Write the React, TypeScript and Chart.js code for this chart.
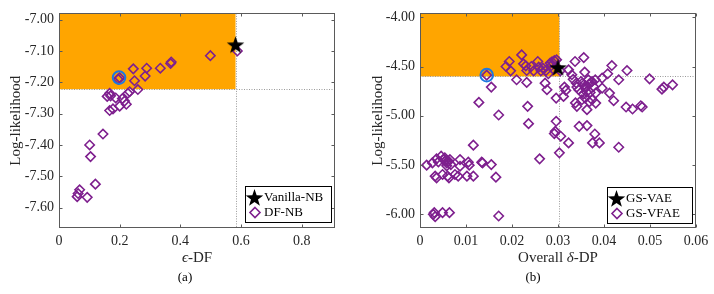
import React, { useEffect, useRef } from 'react';
import { Chart, registerables } from 'chart.js';
Chart.register(...registerables);

// ---------- Panel (a) data ----------
const aXTicks = [0, 0.2, 0.4, 0.6, 0.8];
const aYTicks = [-7.0, -7.1, -7.2, -7.3, -7.4, -7.5, -7.6];
const aXRange = [0, 0.91];
const aYRange = [-7.665, -6.98];
const aStar: [number, number] = [0.582, -7.08];
const aCircle: [number, number] = [0.198, -7.185];
const aThreshold: [number, number] = [0.582, -7.222];
const aDiamonds: [number, number][] = [
  [0.588, -7.1], [0.499, -7.115], [0.37, -7.135], [0.368, -7.14], [0.334, -7.155],
  [0.289, -7.155], [0.284, -7.18], [0.245, -7.157], [0.249, -7.195], [0.2, -7.186],
  [0.195, -7.19], [0.26, -7.223], [0.233, -7.23], [0.227, -7.235], [0.209, -7.252],
  [0.216, -7.26], [0.222, -7.27], [0.2, -7.276], [0.187, -7.25], [0.167, -7.235],
  [0.17, -7.243], [0.159, -7.245], [0.167, -7.29], [0.178, -7.285], [0.145, -7.365],
  [0.101, -7.4], [0.104, -7.437], [0.12, -7.525], [0.068, -7.543], [0.063, -7.555],
  [0.06, -7.565], [0.093, -7.567],
];
const aLegend = ['Vanilla-NB', 'DF-NB'];
const aXTitle = [{ t: 'ϵ', i: true }, { t: '-DF', i: false }];

// ---------- Panel (b) data ----------
const bXTicks = [0, 0.01, 0.02, 0.03, 0.04, 0.05, 0.06];
const bYTicks = [-4.0, -4.5, -5.0, -5.5, -6.0];
const bXRange = [0, 0.06];
const bYRange = [-6.142, -3.96];
const bStar: [number, number] = [0.03, -4.51];
const bCircle: [number, number] = [0.0145, -4.588];
const bThreshold: [number, number] = [0.0303, -4.601];
const bDiamonds: [number, number][] = [
  [0.0194, -4.449], [0.0187, -4.5], [0.0197, -4.544], [0.0221, -4.382], [0.0225, -4.473],
  [0.023, -4.493], [0.0232, -4.541], [0.021, -4.635], [0.0232, -4.662], [0.0242, -4.5],
  [0.0247, -4.544], [0.0256, -4.449], [0.0258, -4.507], [0.0263, -4.544], [0.0267, -4.517],
  [0.0274, -4.541], [0.0283, -4.466], [0.0287, -4.453], [0.0292, -4.44], [0.0297, -4.432],
  [0.0285, -4.493], [0.029, -4.527], [0.0279, -4.574], [0.0272, -4.669], [0.0276, -4.736],
  [0.0155, -4.709], [0.0145, -4.588], [0.0128, -4.865], [0.0171, -4.993], [0.0234, -4.905],
  [0.0236, -5.081], [0.0296, -4.821], [0.0296, -5.057], [0.0294, -5.159], [0.0292, -5.182],
  [0.0306, -5.209], [0.0323, -5.277], [0.0303, -5.378], [0.026, -5.439], [0.0116, -5.3],
  [0.0305, -4.544], [0.0323, -4.534], [0.033, -4.584], [0.0337, -4.449], [0.0356, -4.409],
  [0.0358, -4.557], [0.0314, -4.709], [0.0317, -4.743], [0.0312, -4.804], [0.034, -4.669],
  [0.035, -4.652], [0.0356, -4.686], [0.0359, -4.72], [0.0366, -4.635], [0.0374, -4.652],
  [0.0381, -4.635], [0.0377, -4.703], [0.037, -4.764], [0.0359, -4.821], [0.0341, -4.905],
  [0.0352, -4.838], [0.0363, -4.939], [0.0374, -4.838], [0.0382, -4.872], [0.0396, -4.618],
  [0.0408, -4.574], [0.0417, -4.49], [0.0412, -4.77], [0.0421, -4.848], [0.0432, -4.635],
  [0.0448, -4.912], [0.045, -4.541], [0.0462, -4.932], [0.048, -4.899], [0.0483, -4.912],
  [0.0499, -4.625], [0.0526, -4.73], [0.053, -4.709], [0.0549, -4.686], [0.0346, -5.108],
  [0.0363, -5.101], [0.038, -5.186], [0.0375, -5.277], [0.039, -5.277], [0.0432, -5.321],
  [0.0341, -4.709], [0.0345, -4.736], [0.0382, -4.77], [0.0396, -4.72], [0.0353, -4.67],
  [0.036, -4.7], [0.0367, -4.68], [0.0372, -4.66], [0.0362, -4.76], [0.0355, -4.78],
  [0.0368, -4.86], [0.0333, -4.63], [0.0338, -4.87],
  [0.00145, -5.503], [0.0027, -5.48], [0.0036, -5.439], [0.004, -5.47], [0.0046, -5.412],
  [0.0051, -5.446], [0.0054, -5.429], [0.0058, -5.48], [0.0062, -5.463], [0.0065, -5.446],
  [0.0067, -5.497], [0.0058, -5.51], [0.006, -5.47], [0.0056, -5.455], [0.0087, -5.446],
  [0.0087, -5.514], [0.0105, -5.473], [0.0107, -5.503], [0.0134, -5.473], [0.0136, -5.48],
  [0.0155, -5.497], [0.0033, -5.615], [0.0036, -5.632], [0.0049, -5.598], [0.006, -5.615],
  [0.0063, -5.632], [0.0076, -5.598], [0.0083, -5.615], [0.0102, -5.615], [0.0116, -5.615],
  [0.0165, -5.625], [0.0031, -5.986], [0.0033, -6.027], [0.0029, -6.003], [0.0049, -5.986],
  [0.0064, -5.986], [0.0171, -6.02],
];
const bLegend = ['GS-VAE', 'GS-VFAE'];
const bXTitle = [{ t: 'Overall ', i: false }, { t: 'δ', i: true }, { t: '-DP', i: false }];

const SERIF = '"Liberation Serif", "Times New Roman", serif';
const TEXT = '#262626';
const PURPLE = '#7E1F8E';
const BLUE = '#1E78E0';
const ORANGE = '#FFA500';

function makeStar(size: number): HTMLCanvasElement {
  const c = document.createElement('canvas');
  c.width = size;
  c.height = size;
  const g = c.getContext('2d')!;
  const cx = size / 2, cy = size / 2 + 0.8;
  const R = size / 2 - 0.3, r = R * 0.4;
  g.beginPath();
  for (let i = 0; i < 10; i++) {
    const ang = -Math.PI / 2 + (i * Math.PI) / 5;
    const rad = i % 2 === 0 ? R : r;
    const px = cx + rad * Math.cos(ang), py = cy + rad * Math.sin(ang);
    if (i === 0) g.moveTo(px, py); else g.lineTo(px, py);
  }
  g.closePath();
  g.fillStyle = '#000';
  g.fill();
  return c;
}

function drawDiamond(ctx: CanvasRenderingContext2D, x: number, y: number, r: number) {
  ctx.beginPath();
  ctx.moveTo(x, y - r);
  ctx.lineTo(x + r, y);
  ctx.lineTo(x, y + r);
  ctx.lineTo(x - r, y);
  ctx.closePath();
  ctx.stroke();
}

const panelPlugin = {
  id: 'panel',
  beforeDatasetsDraw(chart: any, _a: any, o: any) {
    const { ctx, chartArea: ca, scales } = chart;
    const px = scales.x.getPixelForValue(o.threshold[0]);
    const py = scales.y.getPixelForValue(o.threshold[1]);
    ctx.save();
    ctx.fillStyle = ORANGE;
    ctx.fillRect(ca.left, ca.top, px - ca.left, py - ca.top);
    ctx.strokeStyle = '#9a9a9a';
    ctx.lineWidth = 1;
    ctx.setLineDash([1, 1.5]);
    ctx.beginPath();
    ctx.moveTo(Math.round(px) + 0.5, ca.top);
    ctx.lineTo(Math.round(px) + 0.5, ca.bottom);
    ctx.moveTo(ca.left, Math.round(py) + 0.5);
    ctx.lineTo(ca.right, Math.round(py) + 0.5);
    ctx.stroke();
    ctx.restore();
  },
  afterDraw(chart: any, _a: any, o: any) {
    const { ctx, chartArea: ca, scales } = chart;
    ctx.save();
    // frame
    ctx.strokeStyle = '#5a5a5a';
    ctx.lineWidth = 1;
    const L = Math.round(ca.left) + 0.5, R = Math.round(ca.right) - 0.5;
    const T = Math.round(ca.top) + 0.5, B = Math.round(ca.bottom) - 0.5;
    ctx.strokeRect(L, T, R - L, B - T);
    // inward ticks
    ctx.beginPath();
    for (const v of o.xTicks) {
      const px = Math.round(scales.x.getPixelForValue(v)) + 0.5;
      ctx.moveTo(px, B); ctx.lineTo(px, B - 3);
      ctx.moveTo(px, T); ctx.lineTo(px, T + 3);
    }
    for (const v of o.yTicks) {
      const py = Math.round(scales.y.getPixelForValue(v)) + 0.5;
      ctx.moveTo(L, py); ctx.lineTo(L + 3, py);
      ctx.moveTo(R, py); ctx.lineTo(R - 3, py);
    }
    ctx.stroke();
    // x-axis title with italic Greek letter
    ctx.fillStyle = TEXT;
    ctx.textBaseline = 'middle';
    ctx.textAlign = 'left';
    const parts = o.xTitle as { t: string; i: boolean }[];
    const fontOf = (i: boolean) => `${i ? 'italic ' : ''}15px ${SERIF}`;
    let total = 0;
    for (const p of parts) { ctx.font = fontOf(p.i); total += ctx.measureText(p.t).width; }
    let tx = (ca.left + ca.right) / 2 - total / 2;
    for (const p of parts) {
      ctx.font = fontOf(p.i);
      ctx.fillText(p.t, tx, 258);
      tx += ctx.measureText(p.t).width;
    }
    // legend
    const lw = o.legendW, lh = 36;
    const lx = Math.round(ca.right - 4 - lw) + 0.5;
    const ly = Math.round(ca.bottom - o.legendBottom - lh) + 0.5;
    ctx.fillStyle = '#fff';
    ctx.fillRect(lx, ly, lw, lh);
    ctx.strokeStyle = '#000';
    ctx.lineWidth = 1;
    ctx.strokeRect(lx, ly, lw, lh);
    const star = o.star as HTMLCanvasElement;
    ctx.drawImage(star, lx + 9 - star.width / 2, ly + 11 - star.height / 2);
    ctx.strokeStyle = PURPLE;
    ctx.lineWidth = 1.6;
    drawDiamond(ctx, lx + 9.5, ly + 26, 5);
    ctx.fillStyle = '#000';
    ctx.font = `13px ${SERIF}`;
    ctx.textBaseline = 'middle';
    ctx.textAlign = 'left';
    ctx.fillText(o.legend[0], lx + 18.5, ly + 11.5);
    ctx.fillText(o.legend[1], lx + 18.5, ly + 26.5);
    // caption
    ctx.fillStyle = '#000';
    ctx.font = `13px ${SERIF}`;
    ctx.textAlign = 'center';
    ctx.fillText(o.caption, o.captionX, 278);
    ctx.restore();
  },
};

interface PanelSpec {
  xTicks: number[]; yTicks: number[]; xRange: number[]; yRange: number[];
  star: [number, number]; circle: [number, number]; threshold: [number, number];
  diamonds: [number, number][]; legend: string[];
  xTitle: { t: string; i: boolean }[]; caption: string; captionX: number;
  yWidth: number; rightPad: number; yTitlePad: number; legendW: number; legendBottom: number;
  xFmt: (v: number) => string;
}

function Panel({ spec }: { spec: PanelSpec }) {
  const ref = useRef<HTMLCanvasElement>(null);
  useEffect(() => {
    const star = makeStar(19);
    const pt = (p: [number, number]) => ({ x: p[0], y: p[1] });
    const chart = new Chart(ref.current!, {
      type: 'scatter',
      data: {
        datasets: [
          {
            data: [pt(spec.circle)], pointStyle: 'circle', pointRadius: 6.3,
            borderColor: BLUE, borderWidth: 2, backgroundColor: 'rgba(0,0,0,0)',
          },
          {
            data: [pt(spec.star)], pointStyle: star as any, pointRadius: 9,
          },
          {
            data: spec.diamonds.map(pt), pointStyle: 'rectRot', pointRadius: 4.7,
            borderColor: PURPLE, borderWidth: 1.6, backgroundColor: 'rgba(0,0,0,0)',
          },
        ],
      },
      options: {
        responsive: false,
        animation: false,
        events: [],
        layout: { padding: { top: 13, right: spec.rightPad, left: 0, bottom: 0 } },
        plugins: {
          legend: { display: false },
          tooltip: { enabled: false },
          panel: {
            threshold: spec.threshold, xTicks: spec.xTicks, yTicks: spec.yTicks,
            legend: spec.legend, star, caption: spec.caption, captionX: spec.captionX,
            legendW: spec.legendW, legendBottom: spec.legendBottom, xTitle: spec.xTitle,
          },
        } as any,
        scales: {
          x: {
            type: 'linear', min: spec.xRange[0], max: spec.xRange[1],
            grid: { display: false, drawTicks: false }, border: { display: false },
            afterBuildTicks: (s: any) => { s.ticks = spec.xTicks.map((v) => ({ value: v })); },
            afterFit: (s: any) => { s.height = 66; },
            ticks: {
              padding: 5, color: TEXT, maxRotation: 0, autoSkip: false,
              font: { family: SERIF, size: 14 },
              callback: (v: any) => spec.xFmt(Number(v)),
            },
            title: { display: false },
          },
          y: {
            type: 'linear', min: spec.yRange[0], max: spec.yRange[1],
            grid: { display: false, drawTicks: false }, border: { display: false },
            afterBuildTicks: (s: any) => { s.ticks = spec.yTicks.map((v) => ({ value: v })); },
            afterFit: (s: any) => { s.width = spec.yWidth; },
            ticks: {
              padding: 5, color: TEXT, autoSkip: false,
              font: { family: SERIF, size: 14 },
              callback: (v: any) => Number(v).toFixed(2),
            },
            title: {
              display: true, text: 'Log-likelihood', color: TEXT,
              font: { family: SERIF, size: 15 }, padding: { top: spec.yTitlePad, bottom: 0 },
            },
          },
        },
      } as any,
      plugins: [panelPlugin as any],
    });
    return () => chart.destroy();
  }, [spec]);
  return <canvas ref={ref} width={357} height={294} style={{ width: 357, height: 294, display: 'block' }} />;
}

const specA: PanelSpec = {
  xTicks: aXTicks, yTicks: aYTicks, xRange: aXRange, yRange: aYRange,
  star: aStar, circle: aCircle, threshold: aThreshold, diamonds: aDiamonds, legend: aLegend,
  xTitle: aXTitle, caption: '(a)', captionX: 185,
  yWidth: 59, rightPad: 22, yTitlePad: 7, legendW: 86, legendBottom: 6,
  xFmt: (v) => (v === 0 ? '0' : String(v)),
};

const specB: PanelSpec = {
  xTicks: bXTicks, yTicks: bYTicks, xRange: bXRange, yRange: bYRange,
  star: bStar, circle: bCircle, threshold: bThreshold, diamonds: bDiamonds, legend: bLegend,
  xTitle: bXTitle, caption: '(b)', captionX: 176,
  yWidth: 63, rightPad: 18, yTitlePad: 12, legendW: 85, legendBottom: 5,
  xFmt: (v) => (v === 0 ? '0' : v.toFixed(2)),
};

export default function App() {
  return (
    <div style={{ position: 'fixed', left: 0, top: 0, width: 714, height: 294, background: '#fff', display: 'flex' }}>
      <Panel spec={specA} />
      <Panel spec={specB} />
    </div>
  );
}
